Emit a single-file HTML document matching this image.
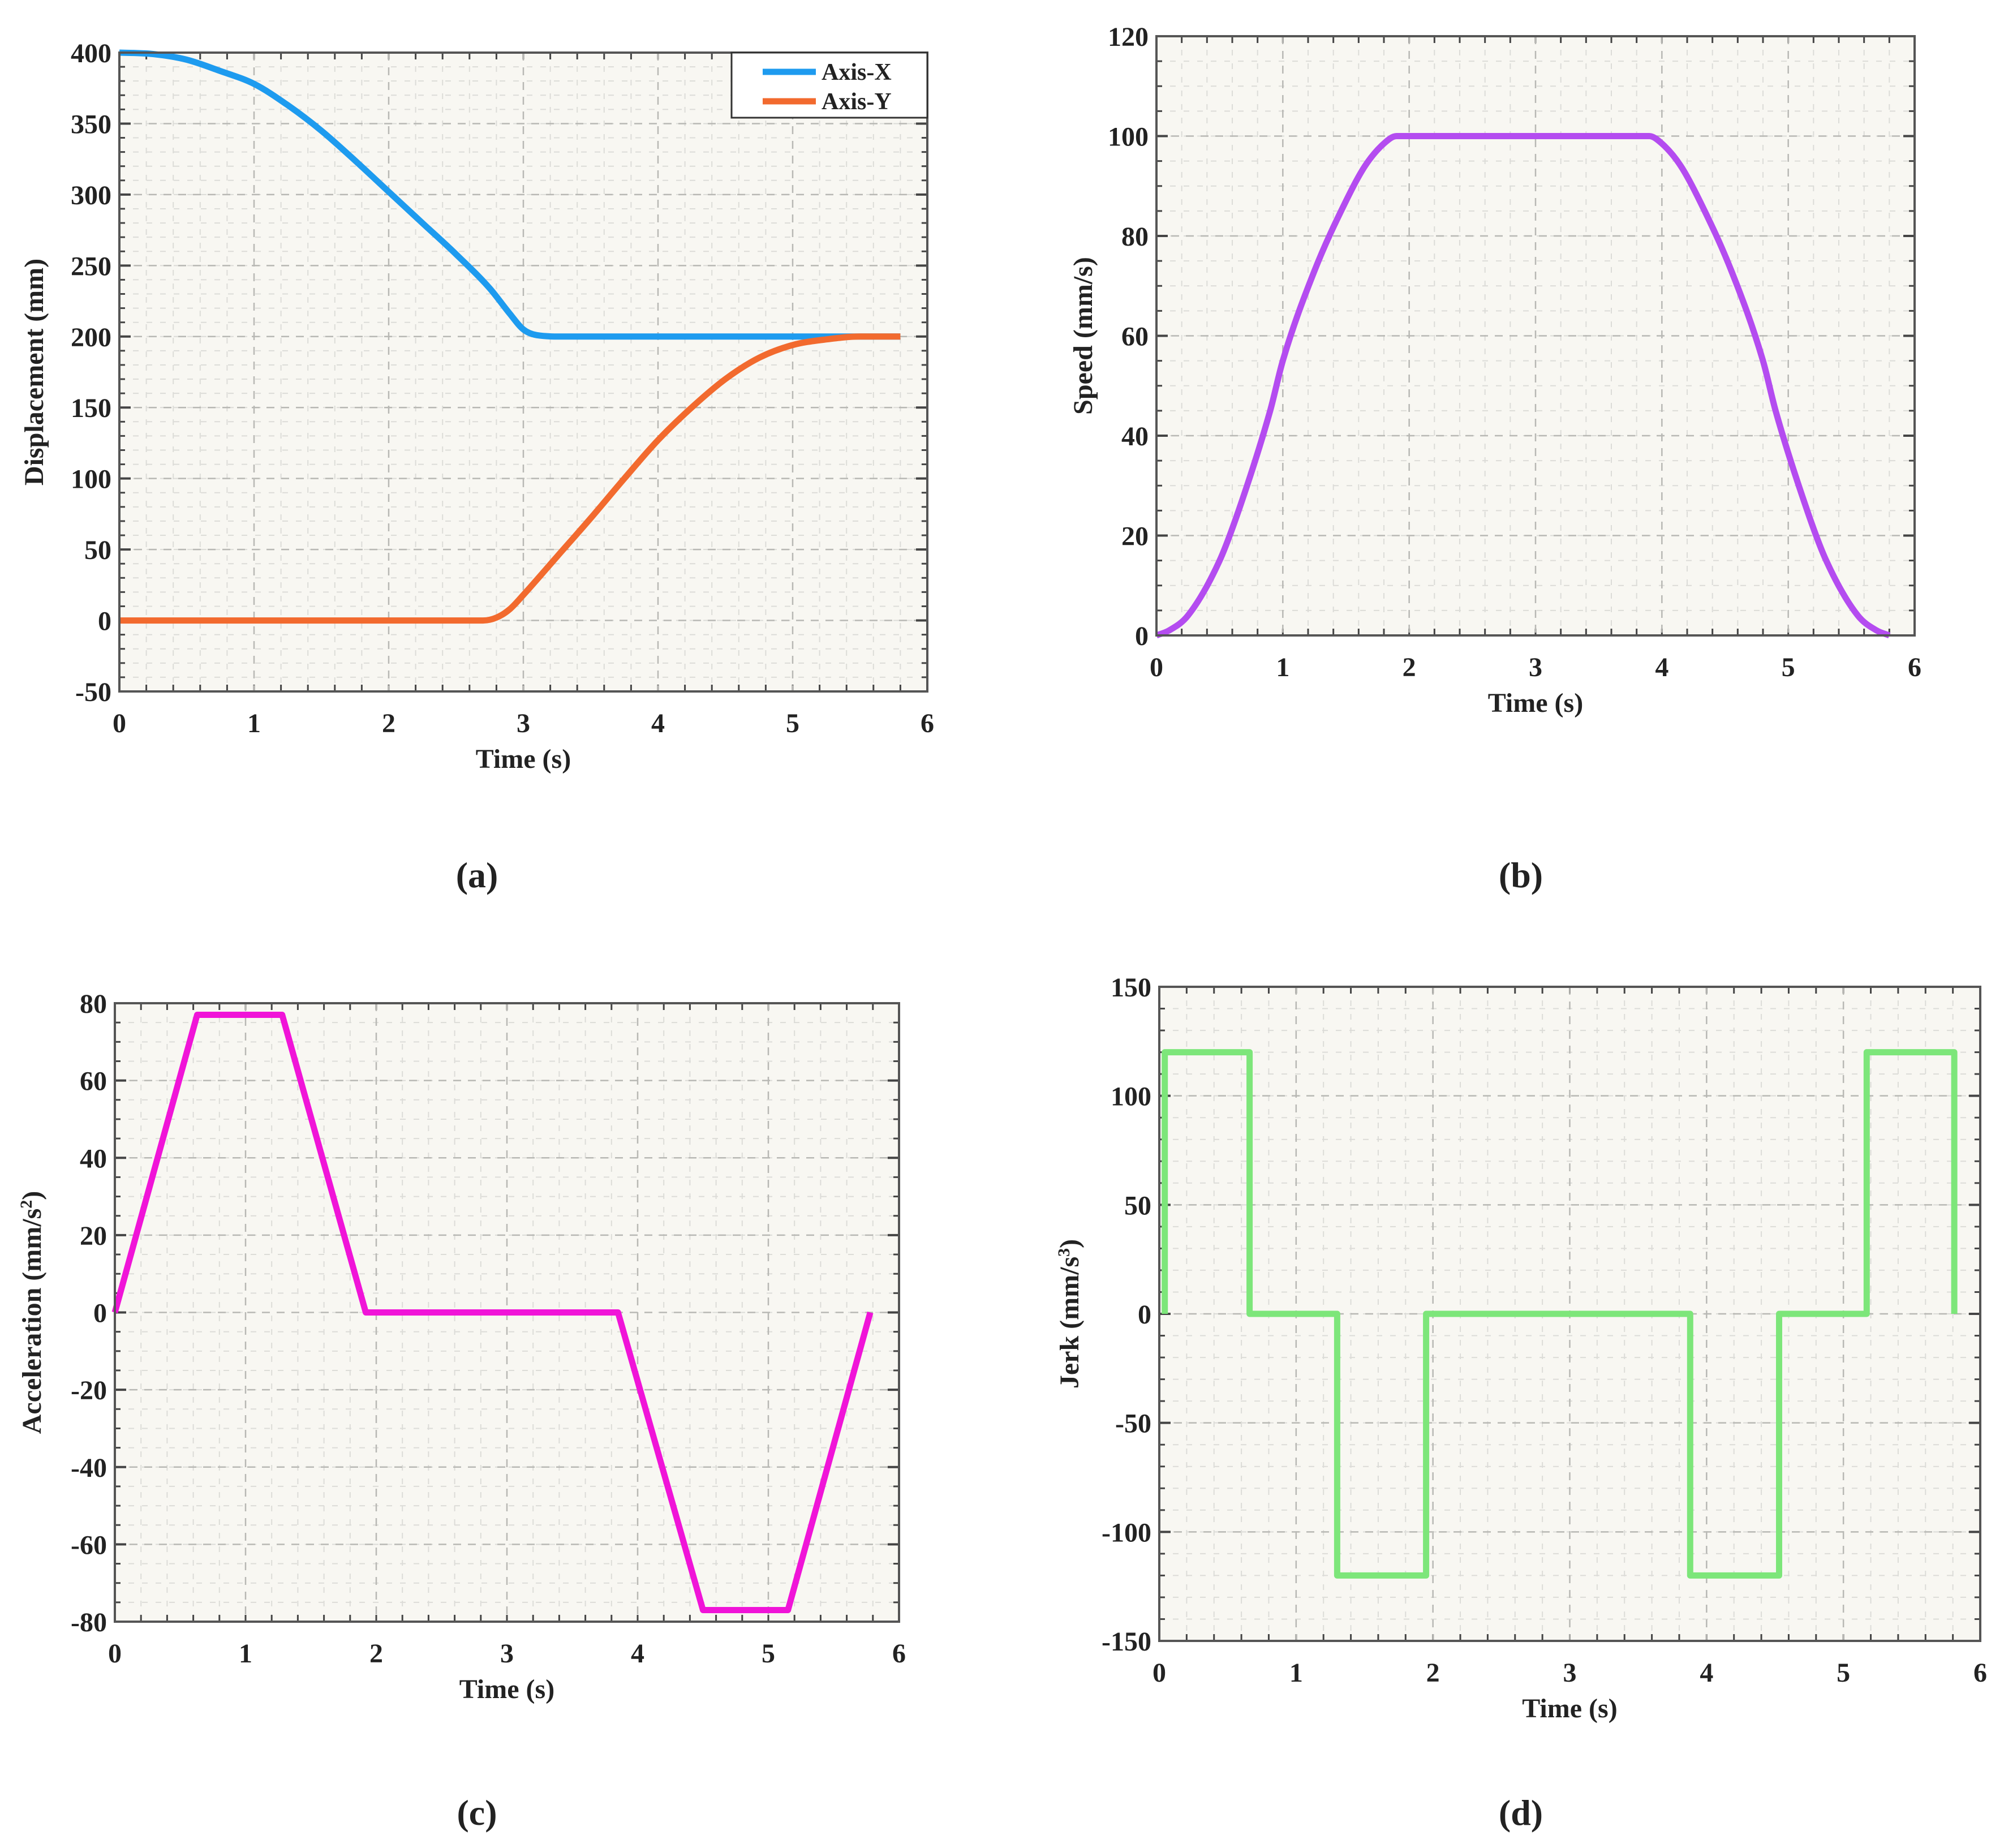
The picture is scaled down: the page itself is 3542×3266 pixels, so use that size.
<!DOCTYPE html>
<html><head><meta charset="utf-8"><style>
html,body{margin:0;padding:0;background:#fff}
svg{display:block}
text{font-family:"Liberation Serif",serif;font-weight:bold;fill:#222}
</style></head><body>
<svg id="fig" width="3542" height="3266" viewBox="0 0 3542 3266" xmlns="http://www.w3.org/2000/svg"></svg>
<script>
// ---- data ----
const dispT = [0,0.25,0.5,0.75,1,1.25,1.5,1.75,2,2.25,2.5,2.75,2.9,3.0,3.1,3.3,5.8];
const dispX = [400,399,395,387,378,363,345,324,302,280,258,234,216,205,201,200,200];
const dispYT = [0,2.7,2.8,2.9,3.0,3.25,3.5,3.75,4.0,4.25,4.5,4.75,5.0,5.25,5.5,5.8];
const dispY = [0,0,2,8,18,45,72,100,127,150,170,185,194,198,200,200];
const speedT = [0,0.1,0.25,0.5,0.65,0.9,1.0,1.25,1.5,1.65,1.8,1.9,3.9,4.0,4.15,4.3,4.55,4.8,4.9,5.15,5.3,5.55,5.7,5.8];
const speedV = [0,1,4,15,25,45,55,73,87,94,98.5,100,100,98.5,94,87,73,55,45,25,15,4,1,0];
const accT = [0,0.63,1.28,1.92,3.85,4.5,5.15,5.78];
const accV = [0,77,77,0,0,-77,-77,0];
const jerkT = [0.04,0.04,0.66,0.66,1.3,1.3,1.95,1.95,3.88,3.88,4.53,4.53,5.17,5.17,5.81,5.81];
const jerkV = [0,120,120,0,0,-120,-120,0,0,-120,-120,0,0,120,120,0];
const xTicks = [0,1,2,3,4,5,6];
const dispTicks = [-50,0,50,100,150,200,250,300,350,400];
const speedTicks = [0,20,40,60,80,100,120];
const accTicks = [-80,-60,-40,-20,0,20,40,60,80];
const jerkTicks = [-150,-100,-50,0,50,100,150];

const NS='http://www.w3.org/2000/svg';
const svg=document.getElementById('fig');
function mk(tag,attrs,parent){const e=document.createElementNS(NS,tag);for(const k in attrs)e.setAttribute(k,attrs[k]);(parent||svg).appendChild(e);return e;}

// monotone cubic path through pixel points
function smoothPath(P){
  const n=P.length;if(n<3)return P.map((p,i)=>(i?'L':'M')+p[0]+','+p[1]).join(' ');
  const d=[],m=new Array(n);
  for(let i=0;i<n-1;i++)d.push((P[i+1][1]-P[i][1])/(P[i+1][0]-P[i][0]));
  m[0]=d[0];m[n-1]=d[n-2];
  for(let i=1;i<n-1;i++){m[i]=(d[i-1]*d[i]<=0)?0:(d[i-1]+d[i])/2;}
  for(let i=0;i<n-1;i++){if(d[i]===0){m[i]=0;m[i+1]=0;continue;}
    const a=m[i]/d[i],b=m[i+1]/d[i],s=a*a+b*b;if(s>9){const t=3/Math.sqrt(s);m[i]=t*a*d[i];m[i+1]=t*b*d[i];}}
  let s='M'+P[0][0].toFixed(1)+','+P[0][1].toFixed(1);
  for(let i=0;i<n-1;i++){const h=(P[i+1][0]-P[i][0])/3;
    s+=' C'+(P[i][0]+h).toFixed(1)+','+(P[i][1]+m[i]*h).toFixed(1)+' '+(P[i+1][0]-h).toFixed(1)+','+(P[i+1][1]-m[i+1]*h).toFixed(1)+' '+P[i+1][0].toFixed(1)+','+P[i+1][1].toFixed(1);}
  return s;
}

function panel(cfg){
  const g=mk('g',{});
  
  
  const {L,R,T,B,ymin,ymax,yticks,ysub}=cfg;
  const sx=v=>L+(v-0)/6*(R-L);
  const sy=v=>B-(v-ymin)/(ymax-ymin)*(B-T);
  const bg=mk('rect',{x:L,y:T,width:R-L,height:B-T,fill:'#f8f7f2'},g);
  
  
  for(let i=0;i<=30;i++){const x=sx(i*0.2);if(i%5)mk('line',{x1:x,x2:x,y1:T,y2:B,stroke:'#dcdcd8','stroke-width':2,'stroke-dasharray':'10 14'},g);}
  const ystep=yticks[1]-yticks[0];
  for(let v=ymin;v<=ymax+1e-9;v+=ystep/ysub){const y=sy(v);mk('line',{x1:L,x2:R,y1:y,y2:y,stroke:'#dcdcd8','stroke-width':2,'stroke-dasharray':'10 14'},g);
    mk('line',{x1:L,x2:L+10,y1:y,y2:y,stroke:'#444','stroke-width':3},g);mk('line',{x1:R-10,x2:R,y1:y,y2:y,stroke:'#444','stroke-width':3},g);}
  for(let i=0;i<=30;i++){const x=sx(i*0.2);mk('line',{x1:x,x2:x,y1:B,y2:B-12,stroke:'#444','stroke-width':3},g);mk('line',{x1:x,x2:x,y1:T,y2:T+12,stroke:'#444','stroke-width':3},g);}
  xTicks.forEach(v=>{const x=sx(v);mk('line',{x1:x,x2:x,y1:T,y2:B,stroke:'#b8b8b4','stroke-width':2.5,'stroke-dasharray':'14 12'},g);
    const t=mk('text',{x:x,y:B+72,'text-anchor':'middle','font-size':48},g);t.textContent=v;
    
    });
  yticks.forEach(v=>{const y=sy(v);mk('line',{x1:L,x2:R,y1:y,y2:y,stroke:'#b8b8b4','stroke-width':2.5,'stroke-dasharray':'14 12'},g);
    mk('line',{x1:L,x2:L+20,y1:y,y2:y,stroke:'#444','stroke-width':4},g);mk('line',{x1:R-20,x2:R,y1:y,y2:y,stroke:'#444','stroke-width':4},g);
    const t=mk('text',{x:L-14,y:y+17,'text-anchor':'end','font-size':48},g);t.textContent=v;
    
    });
  cfg.series.forEach(s=>{
    const P=s.t.map((t,i)=>[sx(t),sy(s.v[i])]);
    const d=s.smooth?smoothPath(P):P.map((p,i)=>(i?'L':'M')+p[0].toFixed(1)+','+p[1].toFixed(1)).join(' ');
    const p=mk('path',{d:d,fill:'none',stroke:s.color,'stroke-width':11,'stroke-linejoin':'round'},g);
    
    
  });
  mk('rect',{x:L,y:T,width:R-L,height:B-T,fill:'none',stroke:'#555','stroke-width':4},g);
  const xl=mk('text',{x:(L+R)/2,y:B+135,'text-anchor':'middle','font-size':48},g);xl.textContent='Time (s)';
  
  
  const yl=mk('text',{x:0,y:0,'text-anchor':'middle','font-size':48,transform:`translate(${cfg.ylx},${(T+B)/2}) rotate(-90)`},g);
  yl.innerHTML=cfg.ylabel;
  
  
  const cap=mk('text',{x:cfg.capX,y:cfg.capY,'text-anchor':'middle','font-size':64,'font-weight':'normal'},g);
  cap.innerHTML='(<tspan font-weight="bold">'+cfg.cap+'</tspan>)';
  
  
  return {g,sx,sy};
}

const a=panel({name:'displacement-chart',L:211,R:1639,T:93,B:1222,ymin:-50,ymax:400,yticks:dispTicks,ysub:5,ylx:76,ylabel:'Displacement (mm)',cap:'a',capX:843,capY:1568,
  series:[{name:'axis-x-line',t:dispT,v:dispX,color:'#1e9bef',smooth:true},{name:'axis-y-line',t:dispYT,v:dispY,color:'#f26a2e',smooth:true}]});
const lg=mk('g',{},a.g);


mk('rect',{x:1293,y:93,width:346,height:115,fill:'#fff',stroke:'#333','stroke-width':3},lg);
[['Axis-X','#1e9bef',127],['Axis-Y','#f26a2e',179]].forEach(([lab,c,y])=>{
  const e=mk('g',{},lg);
  
  
  mk('line',{x1:1348,x2:1442,y1:y,y2:y,stroke:c,'stroke-width':11},e);
  const t=mk('text',{x:1452,y:y+14,'font-size':42,'font-weight':'normal'},e);t.textContent=lab;});

panel({name:'speed-chart',L:2044,R:3384,T:64,B:1123,ymin:0,ymax:120,yticks:speedTicks,ysub:4,ylx:1930,ylabel:'Speed (mm/s)',cap:'b',capX:2688,capY:1568,
  series:[{name:'speed-line',t:speedT,v:speedV,color:'#b44cf0',smooth:true}]});
panel({name:'acceleration-chart',L:203,R:1589,T:1773,B:2866,ymin:-80,ymax:80,yticks:accTicks,ysub:4,ylx:72,ylabel:'Acceleration (mm/s<tspan baseline-shift="super" font-size="30">2</tspan>)',cap:'c',capX:843,capY:3225,
  series:[{name:'acceleration-line',t:accT,v:accV,color:'#f014d8'}]});
panel({name:'jerk-chart',L:2049,R:3500,T:1744,B:2900,ymin:-150,ymax:150,yticks:jerkTicks,ysub:5,ylx:1906,ylabel:'Jerk (mm/s<tspan baseline-shift="super" font-size="30">3</tspan>)',cap:'d',capX:2688,capY:3225,
  series:[{name:'jerk-line',t:jerkT,v:jerkV,color:'#7de67a'}]});
</script>
</body></html>
